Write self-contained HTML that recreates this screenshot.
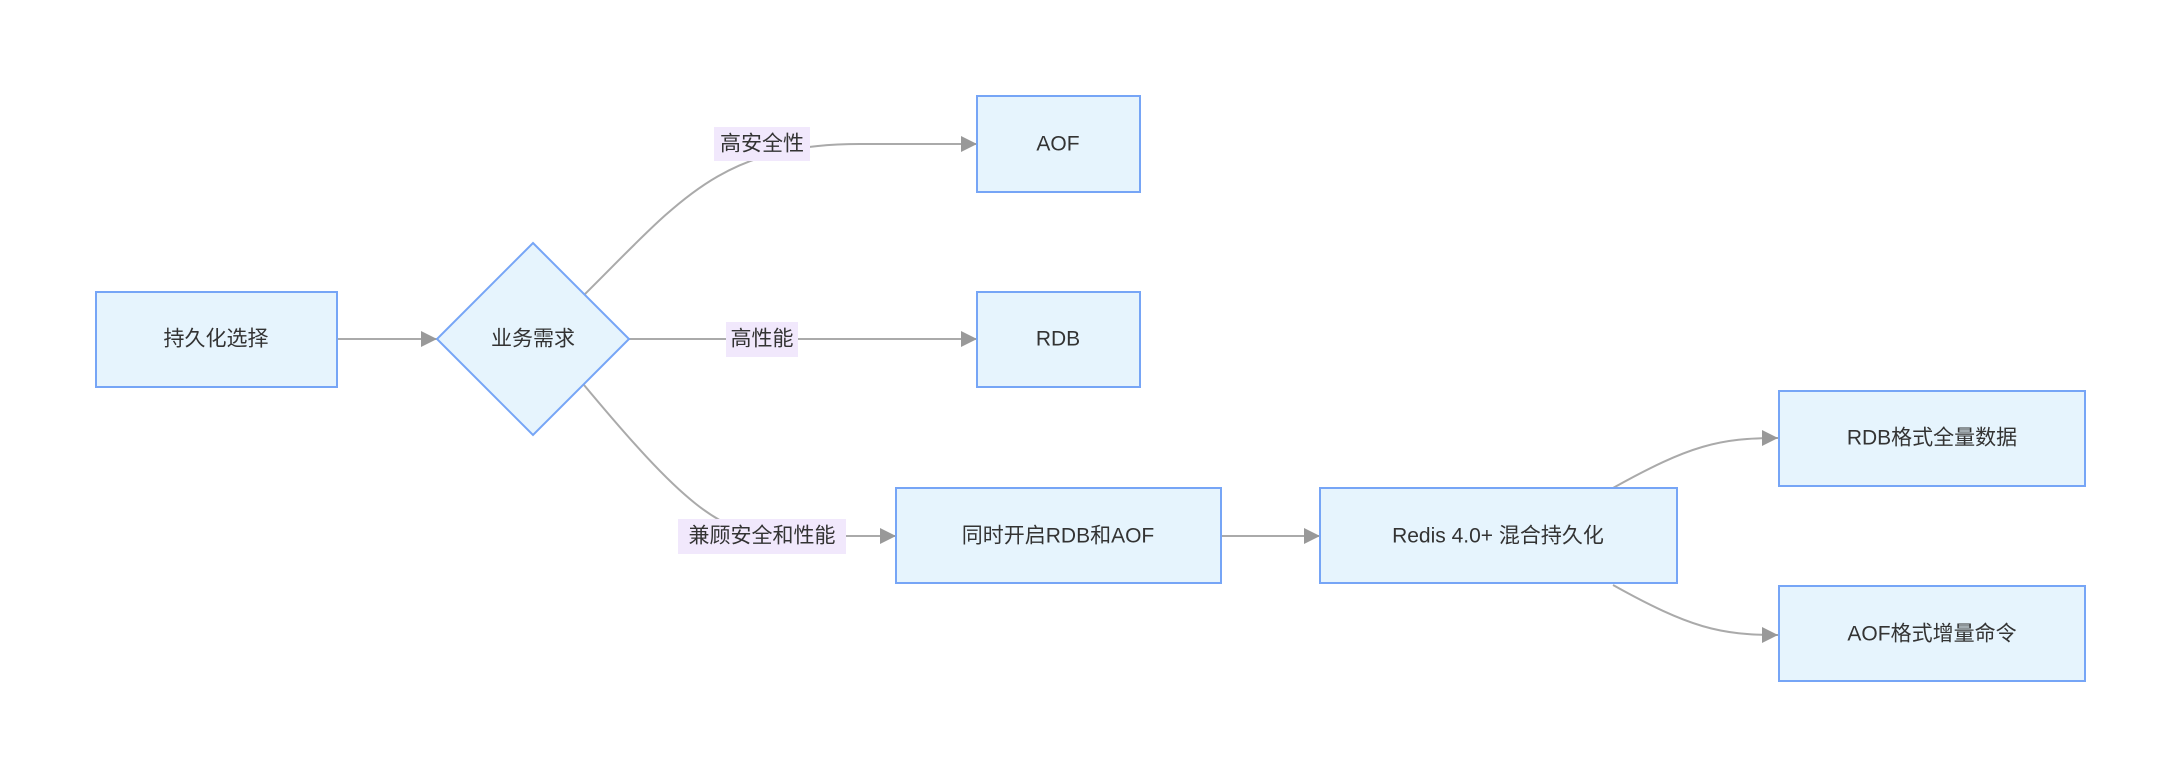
<!DOCTYPE html>
<html><head><meta charset="utf-8"><style>
html,body{margin:0;padding:0;background:#fff;}
svg text{font-family:"Liberation Sans","Noto Sans CJK SC",sans-serif;font-size:21px;fill:#333;}
</style></head><body>
<svg width="2181" height="778" viewBox="0 0 2181 778" xmlns="http://www.w3.org/2000/svg">
<defs><marker id="a" viewBox="0 0 10 10" refX="9" refY="5" markerWidth="9" markerHeight="9" markerUnits="userSpaceOnUse" orient="auto"><path d="M0,0L10,5L0,10z" fill="#999" stroke="#999"/></marker>
<marker id="b" viewBox="0 0 10 10" refX="10" refY="5" markerWidth="16" markerHeight="16" markerUnits="userSpaceOnUse" orient="auto"><path d="M0,0L10,5L0,10z" fill="#999"/></marker></defs>
<g fill="none" stroke="#aaa" stroke-width="2">
<path d="M337,339 L437,339" marker-end="url(#b)"/>
<path d="M584,295 C680,200 720,144 860,144 L977,144" marker-end="url(#b)"/>
<path d="M629,339 L977,339" marker-end="url(#b)"/>
<path d="M584,385 C680,500 720,536 780,536 L896,536" marker-end="url(#b)"/>
<path d="M1221,536 L1320,536" marker-end="url(#b)"/>
<path d="M1613,488 C1690,445 1720,438 1778,438" marker-end="url(#b)"/>
<path d="M1613,585 C1690,628 1720,635 1778,635" marker-end="url(#b)"/>
</g>
<g fill="#f1e8fc">
<rect x="714" y="127" width="96" height="34"/>
<rect x="726" y="322" width="72" height="35"/>
<rect x="678" y="519" width="168" height="35"/>
</g>
<g fill="#e6f4fd" stroke="#76a5f6" stroke-width="2">
<rect x="96" y="292" width="241" height="95"/>
<polygon points="533,243 629,339 533,435 437,339"/>
<rect x="977" y="96" width="163" height="96"/>
<rect x="977" y="292" width="163" height="95"/>
<rect x="896" y="488" width="325" height="95"/>
<rect x="1320" y="488" width="357" height="95"/>
<rect x="1779" y="391" width="306" height="95"/>
<rect x="1779" y="586" width="306" height="95"/>
</g>
<g text-anchor="middle" dominant-baseline="central">
<text x="216" y="339">持久化选择</text>
<text x="533" y="339">业务需求</text>
<text x="1058" y="144">AOF</text>
<text x="1058" y="339">RDB</text>
<text x="1058" y="536">同时开启RDB和AOF</text>
<text x="1498" y="536">Redis 4.0+ 混合持久化</text>
<text x="1932" y="438">RDB格式全量数据</text>
<text x="1932" y="634">AOF格式增量命令</text>
<text x="762" y="144">高安全性</text>
<text x="762" y="339">高性能</text>
<text x="762" y="536">兼顾安全和性能</text>
</g>
</svg>
</body></html>
